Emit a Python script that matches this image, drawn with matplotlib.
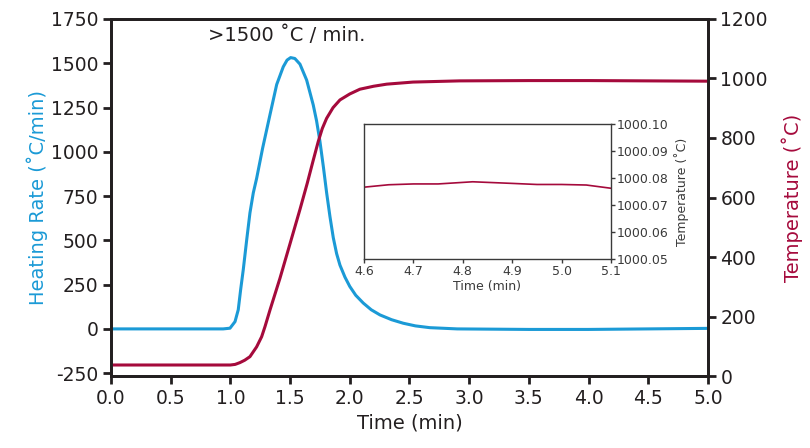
import matplotlib
matplotlib.use("Agg")
import matplotlib.pyplot as plt

plt.rcParams['font.family'] = ['DejaVu Sans']
plt.rcParams['axes.unicode_minus'] = False

# Heating rate (blue, left axis)
rate_time = [0.0, 0.94, 0.997, 1.039, 1.066, 1.086, 1.108, 1.137, 1.164, 1.192, 1.22,
             1.27, 1.332, 1.388, 1.443, 1.475, 1.505, 1.54, 1.583, 1.639, 1.694, 1.722,
             1.75, 1.78, 1.806, 1.834, 1.862, 1.89, 1.918, 1.96, 2.0, 2.05, 2.113, 2.18,
             2.253, 2.35, 2.448, 2.55, 2.67, 2.9, 3.5, 4.0, 4.5, 5.0]
rate_vals = [0, 0, 4, 41, 108, 221, 334, 504, 655, 768, 850,
             1020, 1210, 1380, 1480, 1518, 1532, 1527, 1495, 1405, 1265, 1175,
             1060, 910, 770, 635, 515, 425, 360, 292, 240, 190, 146, 108,
             79, 52, 32, 17, 7, 0, -3, -3, 0, 3]

# Temperature (red, right axis)
temp_time = [0.0, 1.0, 1.04, 1.08, 1.12, 1.164, 1.22, 1.262, 1.29, 1.332, 1.415, 1.50,
             1.583, 1.644, 1.694, 1.736, 1.77, 1.806, 1.86, 1.918, 2.0, 2.085, 2.2,
             2.31, 2.53, 2.92, 3.5, 4.0, 4.5, 5.0]
temp_vals = [37, 37, 39, 45, 53, 65, 98, 132, 166, 222, 328, 445,
             560, 648, 725, 788, 832, 866, 902, 928, 948, 964, 974,
             981, 988, 992, 993, 993, 992, 991]

# Inset temperature
inset_time = [4.6, 4.65, 4.7, 4.75, 4.82, 4.9, 4.95, 5.0, 5.05, 5.1]
inset_vals = [1000.0766, 1000.0775, 1000.0778, 1000.0778, 1000.0786, 1000.0780,
              1000.0776, 1000.0776, 1000.0774, 1000.0762]

x_ticks = [0.0, 0.5, 1.0, 1.5, 2.0, 2.5, 3.0, 3.5, 4.0, 4.5, 5.0]
left_ticks = [-250, 0, 250, 500, 750, 1000, 1250, 1500, 1750]
right_ticks = [0, 200, 400, 600, 800, 1000, 1200]
inset_xticks = [4.6, 4.7, 4.8, 4.9, 5.0, 5.1]
inset_yticks = [1000.05, 1000.06, 1000.07, 1000.08, 1000.09, 1000.10]

BLUE = '#1b9ad6'
RED = '#a50a3c'
DARK = '#231f20'

fig = plt.figure(figsize=(8.10, 4.48), dpi=100)
ax = fig.add_axes([0.137, 0.1607, 0.737, 0.7969])
ax2 = ax.twinx()

ax.plot(rate_time, rate_vals, color=BLUE, lw=2.2, solid_joinstyle='round')
ax2.plot(temp_time, temp_vals, color=RED, lw=2.2, solid_joinstyle='round')

ax.set_xlim(0, 5)
ax.set_ylim(-266, 1750)
ax2.set_ylim(0, 1200)
ax.set_xticks(x_ticks)
ax.set_xticklabels([f"{v:.1f}" for v in x_ticks])
ax.set_yticks(left_ticks)
ax2.set_yticks(right_ticks)

for a in (ax, ax2):
    for s in a.spines.values():
        s.set_linewidth(2)
        s.set_color(DARK)
    a.tick_params(direction='out', length=6, width=2, colors=DARK, labelsize=13.5, pad=3)

ax.set_xlabel('Time (min)', fontsize=14, color=DARK, labelpad=4)
ax.set_ylabel('Heating Rate (˚C/min)', fontsize=14, color=BLUE, labelpad=2)
ax2.set_ylabel('Temperature (˚C)', fontsize=14, color=RED, labelpad=10)

ax.text(1.47, 1605, '>1500 ˚C / min.', fontsize=14, color=DARK, ha='center', va='bottom')

# Inset
ins = fig.add_axes([0.4494, 0.4219, 0.3049, 0.3013])
ins.plot(inset_time, inset_vals, color=RED, lw=1.2)
ins.set_xlim(4.6, 5.1)
ins.set_ylim(1000.05, 1000.10)
ins.set_xticks(inset_xticks)
ins.set_xticklabels([f"{v:.1f}" for v in inset_xticks])
ins.set_yticks(inset_yticks)
ins.set_yticklabels([f"{v:.2f}" for v in inset_yticks])
ins.yaxis.tick_right()
ins.yaxis.set_label_position('right')
for s in ins.spines.values():
    s.set_linewidth(1)
    s.set_color('#3a3a3a')
ins.tick_params(direction='out', length=3, width=1, colors='#3a3a3a', labelsize=9, pad=1)
ins.tick_params(axis='y', right=True, left=False)
ins.set_xlabel('Time (min)', fontsize=9, color='#3a3a3a', labelpad=2)
ins.set_ylabel('Temperature (˚C)', fontsize=9, color='#3a3a3a', labelpad=4)

fig.savefig('out.png', dpi=100)
